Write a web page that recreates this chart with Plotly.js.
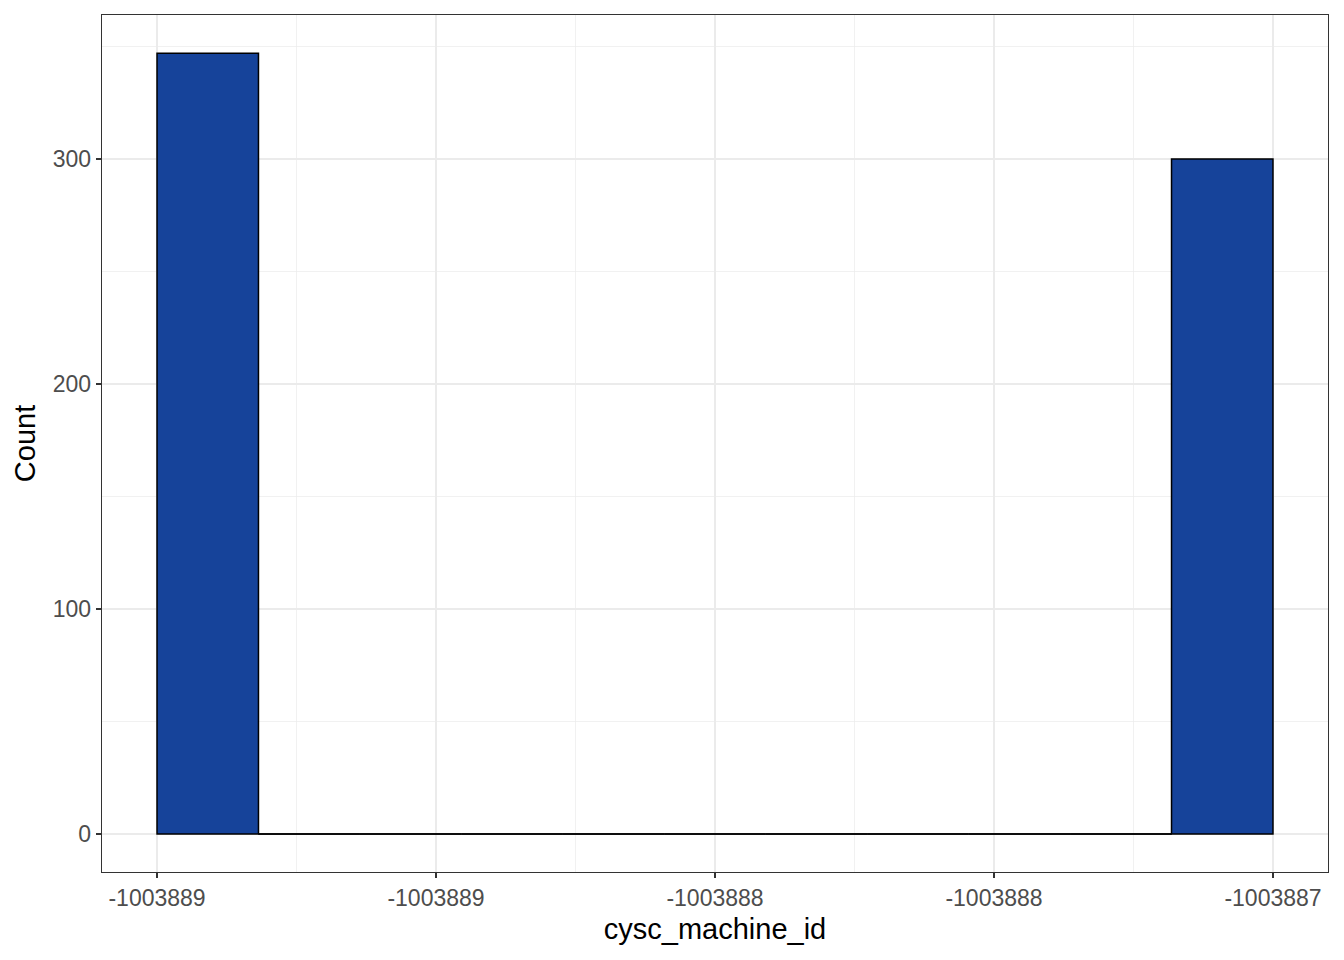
<!DOCTYPE html>
<html>
<head>
<meta charset="utf-8">
<script src="https://cdn.plot.ly/plotly-3.0.1.min.js"></script>
<style>body{margin:0;background:#fff}#chart{width:1344px;height:960px}</style>
</head>
<body>
<div id="chart"></div>
<script>
// Histogram data: 11 bins between -1003889 and -1003887
const binEdgeMin = -1003889;
const binEdgeMax = -1003887;
const counts = [347, 0, 0, 0, 0, 0, 0, 0, 0, 0, 300];
const tickValues = [-1003889, -1003888.5, -1003888, -1003887.5, -1003887];
const tickLabels = ["-1003889", "-1003889", "-1003888", "-1003888", "-1003887"];
const yTickValues = [0, 100, 200, 300];
const yTickLabels = ["0", "100", "200", "300"];

const nBins = counts.length;
const bw = (binEdgeMax - binEdgeMin) / nBins;
const centers = counts.map((_, i) => binEdgeMin + bw * (i + 0.5));

const bars = {
  type: 'bar',
  x: centers,
  y: counts,
  width: counts.map(() => bw),
  marker: {color: '#16439a', line: {color: '#000000', width: 1.5}},
  hoverinfo: 'x+y',
  showlegend: false
};
// outline of the empty bins along y = 0
const zeroX = [], zeroY = [];
counts.forEach((c, i) => {
  if (c === 0) {
    zeroX.push(binEdgeMin + bw * i, binEdgeMin + bw * (i + 1));
    zeroY.push(0, 0);
  }
});
const zeroLine = {
  type: 'scatter', mode: 'lines', x: zeroX, y: zeroY,
  line: {color: '#000000', width: 1.5}, hoverinfo: 'skip', showlegend: false
};

const xPad = (binEdgeMax - binEdgeMin) * 0.0493;
const layout = {
  width: 1344, height: 960,
  margin: {l: 102, r: 16, t: 15, b: 88},
  paper_bgcolor: '#ffffff', plot_bgcolor: '#ffffff',
  font: {family: 'Liberation Sans, Arial, sans-serif', color: '#000'},
  bargap: 0,
  xaxis: {
    range: [binEdgeMin - xPad, binEdgeMax + xPad],
    tickvals: tickValues, ticktext: tickLabels,
    tickfont: {size: 23, color: '#4d4d4d'},
    ticks: 'outside', ticklen: 5, tickcolor: '#333333', tickwidth: 1.3,
    showgrid: true, gridcolor: '#ebebeb', gridwidth: 1.3,
    minor: {showgrid: true, gridcolor: '#ebebeb', gridwidth: 0.7, dtick: 0.25, tick0: binEdgeMin},
    showline: true, linecolor: '#333333', linewidth: 1.3, mirror: true,
    zeroline: false,
    title: {text: 'cysc_machine_id', font: {size: 29, color: '#000'}, standoff: 8}
  },
  yaxis: {
    range: [-16.9, 364],
    tickvals: yTickValues, ticktext: yTickLabels,
    tickfont: {size: 23, color: '#4d4d4d'},
    ticks: 'outside', ticklen: 5, tickcolor: '#333333', tickwidth: 1.3,
    showgrid: true, gridcolor: '#ebebeb', gridwidth: 1.3,
    minor: {showgrid: true, gridcolor: '#ebebeb', gridwidth: 0.7, dtick: 50, tick0: 0},
    showline: true, linecolor: '#333333', linewidth: 1.3, mirror: true,
    zeroline: false,
    title: {text: 'Count', font: {size: 29, color: '#000'}, standoff: 8}
  }
};
Plotly.newPlot('chart', [bars, zeroLine], layout, {displayModeBar: false, staticPlot: true});
</script>
</body>
</html>
